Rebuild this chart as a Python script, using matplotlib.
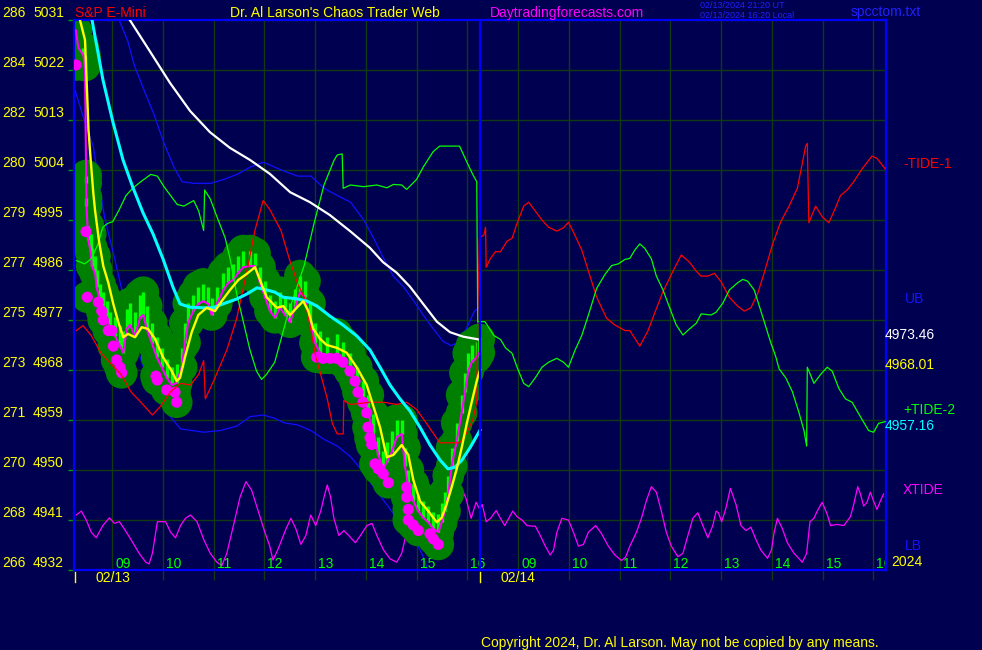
import numpy as np
import matplotlib.pyplot as plt
import matplotlib.transforms as mtransforms

plt.rcParams['font.family'] = ['Liberation Sans', 'DejaVu Sans']

W, H, DPI = 982, 650, 100
BG = '#000050'
GRID = '#123a12'
YEL = '#ffff00'

# left scale: second index and price gridlines
scale_a = [286, 284, 282, 280, 279, 277, 275, 273, 271, 270, 268, 266]
scale_p = [5031, 5022, 5013, 5004, 4995, 4986, 4977, 4968, 4959, 4950, 4941, 4932]
# session hours: day 2 (02/14) runs on from day 1, 09:00 of day 2 sits at 17
hour_labels = ['09', '10', '11', '12', '13', '14', '15', '16']
day1_hours = [9, 10, 11, 12, 13, 14, 15, 16]
day2_hours = [17, 18, 19, 20, 21, 22, 23, 24]
day_names = ['02/13', '02/14']

# price: close (magenta line), bar highs (lime)
close_t = [8.289, 8.335, 8.433, 8.467, 8.490, 8.496, 8.532, 8.579, 8.599, 8.664,
           8.697, 8.762, 8.821, 8.894, 8.959, 9.058, 9.156, 9.221, 9.288, 9.353,
           9.452, 9.550, 9.616, 9.683, 9.781, 9.880, 9.978, 10.077, 10.176, 10.274,
           10.372, 10.437, 10.502, 10.601, 10.699, 10.798, 10.896, 10.963, 11.062, 11.192,
           11.290, 11.389, 11.487, 11.586, 11.718, 11.817, 11.915, 12.013, 12.112, 12.211,
           12.309, 12.408, 12.506, 12.605, 12.703, 12.802, 12.900, 12.999, 13.097, 13.229,
           13.426, 13.556, 13.688, 13.820, 13.950, 14.049, 14.148, 14.246, 14.345, 14.412,
           14.510, 14.609, 14.707, 14.772, 14.837, 14.936, 15.034, 15.133, 15.231, 15.330,
           15.428, 15.495, 15.560, 15.625, 15.692, 15.791, 15.889, 15.954, 16.019, 16.086,
           16.185, 16.236]
close_p = [5029.1, 5026.0, 5024.7, 5022.8, 5001.7, 4997.5, 4991.4, 4989.2, 4986.7, 4985.5,
           4982.9, 4980.4, 4979.2, 4977.4, 4975.4, 4974.1, 4972.3, 4971.1, 4975.4, 4976.1,
           4974.1, 4977.4, 4977.9, 4975.4, 4972.9, 4970.3, 4968.5, 4966.6, 4965.3, 4965.7,
           4968.5, 4972.9, 4976.6, 4978.6, 4979.9, 4980.4, 4979.9, 4977.9, 4979.9, 4982.4,
           4983.7, 4984.2, 4985.5, 4986.5, 4986.7, 4986.7, 4983.7, 4981.1, 4978.6, 4977.4,
           4979.2, 4977.9, 4976.6, 4979.2, 4982.0, 4981.1, 4976.6, 4972.9, 4971.1, 4970.3,
           4970.3, 4969.4, 4967.8, 4965.3, 4962.8, 4960.3, 4956.5, 4952.7, 4950.2, 4951.4,
           4953.2, 4955.9, 4956.5, 4950.7, 4946.9, 4944.4, 4942.6, 4941.4, 4940.6, 4939.4,
           4938.8, 4940.6, 4942.6, 4945.7, 4950.7, 4955.2, 4960.3, 4964.0, 4967.8, 4969.4,
           4970.3, 4971.1]
close_hi = [5029.1, 5026.0, 5026.0, 5024.5, 5003.0, 4999.0, 4994.0, 4992.5, 4990.0, 4988.5,
            4986.0, 4983.5, 4982.0, 4980.5, 4978.5, 4977.5, 4976.0, 4975.0, 4979.0, 4980.0,
            4978.5, 4981.5, 4982.0, 4979.5, 4976.5, 4974.0, 4972.0, 4970.0, 4968.5, 4969.0,
            4972.0, 4976.5, 4980.0, 4981.5, 4983.0, 4983.5, 4983.0, 4981.0, 4983.0, 4985.5,
            4986.5, 4987.0, 4988.5, 4989.5, 4989.5, 4989.0, 4986.5, 4984.0, 4981.5, 4980.5,
            4982.0, 4981.0, 4980.0, 4982.5, 4985.0, 4984.0, 4980.0, 4976.5, 4975.0, 4974.0,
            4974.5, 4973.0, 4971.0, 4968.5, 4966.0, 4963.5, 4960.0, 4956.0, 4953.5, 4955.0,
            4957.0, 4959.0, 4959.0, 4954.0, 4950.0, 4947.5, 4945.5, 4944.5, 4943.5, 4942.5,
            4942.0, 4944.0, 4946.0, 4949.0, 4954.0, 4958.5, 4963.5, 4967.5, 4971.0, 4972.5,
            4973.0, 4973.5]

# magenta turning-point dots
dot_t = [8.289, 8.486, 8.512, 8.729, 8.796, 8.827, 8.926, 8.993, 9.024, 9.091,
         9.156, 9.190, 9.866, 9.891, 10.077, 10.240, 10.274, 13.032, 13.156, 13.294,
         13.426, 13.550, 13.688, 13.787, 13.846, 13.944, 14.017, 14.043, 14.083, 14.116,
         14.181, 14.246, 14.345, 14.443, 14.806, 14.806, 14.837, 14.837, 14.936, 15.034,
         15.265, 15.330, 15.428]
dot_p = [5022.9, 4992.9, 4981.1, 4980.2, 4978.6, 4977.0, 4975.1, 4975.1, 4972.3, 4969.8,
         4968.5, 4967.5, 4966.9, 4966.2, 4964.4, 4964.0, 4962.2, 4970.3, 4970.1, 4970.1,
         4970.1, 4969.4, 4967.8, 4966.0, 4964.0, 4962.2, 4960.3, 4957.7, 4955.8, 4954.6,
         4951.1, 4950.2, 4949.3, 4947.7, 4946.9, 4945.1, 4942.9, 4941.0, 4940.1, 4939.1,
         4938.5, 4937.6, 4936.6]

# averages
yellow_t = [8.368, 8.467, 8.506, 8.536, 8.579, 8.630, 8.664, 8.743, 8.827, 8.926,
            9.024, 9.123, 9.221, 9.314, 9.452, 9.584, 9.708, 9.846, 10.004, 10.176,
            10.274, 10.339, 10.437, 10.569, 10.699, 10.865, 11.028, 11.160, 11.324, 11.487,
            11.653, 11.817, 11.915, 12.047, 12.244, 12.374, 12.506, 12.638, 12.768, 12.867,
            12.965, 13.097, 13.229, 13.426, 13.623, 13.820, 14.017, 14.148, 14.280, 14.412,
            14.542, 14.707, 14.837, 14.936, 15.068, 15.231, 15.397, 15.495, 15.594, 15.692,
            15.791, 15.889, 15.988, 16.086, 16.185, 16.25]
yellow_p = [5031, 5027.4, 5018.4, 5011.2, 5005.8, 4999.9, 4996.8, 4991.2, 4986.7, 4983.7,
            4979.9, 4976.6, 4973.9, 4974.5, 4973.9, 4975.7, 4975.4, 4973.6, 4970.3, 4967.8,
            4966.0, 4966.6, 4970.3, 4974.8, 4977.9, 4979.2, 4978.6, 4980.4, 4982.4, 4984.2,
            4985.3, 4986.5, 4984.2, 4981.1, 4979.2, 4979.5, 4977.9, 4979.2, 4980.4, 4978.6,
            4975.4, 4973.6, 4972.5, 4972.0, 4971.1, 4968.5, 4965.3, 4961.5, 4957.7, 4952.3,
            4952.7, 4954.5, 4952.7, 4948.2, 4944.4, 4942.6, 4940.6, 4941.4, 4943.9, 4946.9,
            4950.2, 4954.0, 4958.3, 4962.2, 4966.0, 4968.01]

cyan_t = [8.605, 8.821, 9.018, 9.216, 9.413, 9.610, 9.807, 10.004, 10.201, 10.339,
          10.536, 10.792, 10.989, 11.186, 11.462, 11.659, 11.856, 12.053, 12.211, 12.368,
          12.644, 12.841, 13.038, 13.294, 13.550, 13.826, 14.083, 14.280, 14.477, 14.674,
          14.871, 15.068, 15.265, 15.462, 15.619, 15.757, 15.895, 16.053, 16.25]
cyan_p = [5031, 5020.2, 5012.6, 5005.8, 5000.8, 4996.3, 4992.5, 4988.0, 4982.9, 4979.9,
          4979.3, 4979.2, 4979.2, 4979.9, 4980.8, 4981.7, 4982.8, 4982.4, 4982.0, 4981.1,
          4980.8, 4980.4, 4979.5, 4977.7, 4976.1, 4974.1, 4971.6, 4968.5, 4965.3, 4962.8,
          4960.6, 4957.7, 4954.5, 4951.8, 4950.2, 4950.5, 4951.8, 4954.0, 4957.16]

white_t = [9.35, 9.75, 10.14, 10.54, 10.93, 11.32, 11.72, 12.11, 12.51, 12.90,
           13.29, 13.69, 14.08, 14.34, 14.61, 14.87, 15.13, 15.40, 15.66, 15.92, 16.25]
white_p = [5031, 5025.3, 5019.7, 5014.6, 5010.8, 5008.0, 5005.8, 5003.3, 5000.0, 4998.2,
           4995.9, 4993.0, 4990.0, 4987.4, 4985.5, 4983.0, 4979.9, 4976.7, 4974.8, 4974.0,
           4973.46]

# bands
ub_t = [9.14, 9.31, 9.44, 9.63, 9.83, 10.02, 10.22, 10.38, 10.61, 10.94,
        11.20, 11.46, 11.72, 11.98, 12.21, 12.39, 12.66, 12.92, 13.18, 13.44,
        13.70, 13.96, 14.15, 14.35, 14.54, 14.74, 14.94, 15.13, 15.33, 15.52,
        15.68, 15.81, 15.98, 16.14, 16.23]
ub_p = [5031, 5027.2, 5022.8, 5018.4, 5013.9, 5008.9, 5004.5, 5001.9, 5001.6, 5001.6,
        5002.3, 5003.2, 5004.5, 5005.4, 5004.5, 5003.8, 5002.9, 5002.9, 5000.7, 4999.4,
        4998.2, 4995.0, 4991.8, 4988.1, 4984.9, 4983.0, 4980.5, 4977.9, 4975.4, 4973.2,
        4972.4, 4972.9, 4975.4, 4978.6, 4979.2]
lb_t = [8.27, 8.45, 8.63, 8.85, 9.05, 9.24, 9.37, 9.60, 9.85, 10.15,
        10.35, 10.81, 11.13, 11.46, 11.72, 11.98, 12.21, 12.39, 12.66, 12.92,
        13.18, 13.44, 13.70, 13.96, 14.15, 14.41, 14.61, 14.81, 15.00, 15.13,
        15.20, 15.26]
lb_p = [5018.4, 5013.0, 5008.2, 4995.6, 4988.1, 4980.5, 4975.4, 4969.0, 4963.5, 4959.6,
        4957.4, 4956.8, 4957.1, 4957.9, 4959.6, 4959.9, 4959.3, 4958.5, 4958.1, 4957.1,
        4955.5, 4954.3, 4952.4, 4949.5, 4947.0, 4943.8, 4941.3, 4939.4, 4936.9, 4934.4,
        4932.5, 4930.5]

# tides (both days)
red_t = [8.296, 8.427, 8.590, 8.785, 8.980, 9.176, 9.371, 9.567, 9.795, 9.958,
         10.153, 10.349, 10.544, 10.707, 10.805, 10.837, 11.000, 11.261, 11.456, 11.651,
         11.814, 11.977, 12.107, 12.329, 12.492, 12.655, 12.785, 12.915, 13.013, 13.111,
         13.241, 13.339, 13.436, 13.554, 13.567, 13.697, 14.088, 14.349, 14.609, 14.805,
         15.000, 15.195, 15.391, 15.456, 15.847, 15.977, 16.107, 16.186, 16.205, 16.238,
         16.327, 16.359, 16.372, 16.457, 16.555, 16.653, 16.784, 16.882, 16.980, 17.111,
         17.209, 17.340, 17.471, 17.601, 17.765, 17.895, 17.993, 18.124, 18.255, 18.386,
         18.549, 18.745, 18.908, 19.105, 19.203, 19.399, 19.562, 19.693, 19.856, 20.052,
         20.216, 20.379, 20.510, 20.608, 20.739, 20.869, 21.000, 21.163, 21.327, 21.457,
         21.588, 21.719, 21.850, 22.013, 22.176, 22.340, 22.503, 22.667, 22.699, 22.730,
         22.863, 22.993, 23.124, 23.255, 23.353, 23.484, 23.614, 23.778, 23.974, 24.072,
         24.235]
red_p = [4975.1, 4976.0, 4974.2, 4971.0, 4969.1, 4967.2, 4964.1, 4962.2, 4959.9, 4961.5,
         4964.1, 4965.6, 4965.3, 4967.2, 4969.7, 4962.8, 4966.0, 4971.6, 4977.3, 4985.5,
         4993.1, 4998.5, 4996.9, 4993.1, 4988.0, 4983.6, 4981.1, 4975.4, 4970.4, 4967.2,
         4962.8, 4958.4, 4956.5, 4956.5, 4962.5, 4961.8, 4962.2, 4962.2, 4961.8, 4962.2,
         4960.9, 4958.4, 4955.8, 4954.9, 4954.9, 4956.5, 4959.0, 4962.2, 4977.3, 4991.8,
         4992.3, 4993.7, 4986.5, 4988.1, 4989.3, 4989.3, 4991.2, 4991.7, 4994.4, 4997.5,
         4998.2, 4996.6, 4995.0, 4993.7, 4993.0, 4993.6, 4994.6, 4992.2, 4989.6, 4985.8,
         4981.1, 4977.3, 4976.1, 4975.1, 4975.1, 4972.3, 4975.1, 4978.3, 4982.1, 4985.8,
         4988.7, 4987.4, 4985.8, 4984.9, 4984.9, 4985.4, 4983.9, 4981.1, 4979.5, 4978.6,
         4979.2, 4981.7, 4985.5, 4990.6, 4994.7, 4997.5, 5000.7, 5008.3, 5008.8, 4994.5,
         4997.5, 4995.6, 4994.5, 4997.2, 4999.4, 5000.4, 5001.9, 5004.2, 5006.5, 5006.1,
         5004.2]

green_t = [8.296, 8.459, 8.590, 8.720, 8.818, 8.915, 9.013, 9.143, 9.274, 9.404,
           9.567, 9.762, 9.893, 10.023, 10.153, 10.283, 10.414, 10.609, 10.707, 10.805,
           10.824, 10.935, 11.065, 11.228, 11.326, 11.456, 11.586, 11.717, 11.847, 11.945,
           12.042, 12.205, 12.459, 12.785, 12.980, 13.176, 13.371, 13.436, 13.534, 13.554,
           13.697, 13.958, 14.218, 14.414, 14.544, 14.707, 14.805, 15.000, 15.130, 15.326,
           15.456, 15.847, 15.977, 16.107, 16.186, 16.205,
           16.346, 16.392, 16.523, 16.653, 16.752, 16.882, 16.980, 17.111, 17.209, 17.340,
           17.471, 17.601, 17.765, 17.895, 17.993, 18.124, 18.255, 18.386, 18.549, 18.712,
           18.843, 18.974, 19.105, 19.203, 19.301, 19.399, 19.497, 19.627, 19.725, 19.856,
           19.987, 20.117, 20.248, 20.379, 20.510, 20.608, 20.804, 20.902, 21.033, 21.163,
           21.327, 21.425, 21.523, 21.653, 21.719, 21.850, 21.980, 22.078, 22.144, 22.274,
           22.405, 22.536, 22.634, 22.686, 22.699, 22.830, 22.961, 23.092, 23.189, 23.320,
           23.451, 23.582, 23.745, 23.908, 24.006, 24.104, 24.235]
green_p = [4987.7, 4987.1, 4988.0, 4990.6, 4993.7, 4994.4, 4994.7, 4996.9, 4999.4, 5000.7,
           5001.9, 5003.2, 5002.9, 5001.0, 4999.4, 4997.8, 4997.5, 4998.5, 4996.6, 4993.1,
           5000.4, 4998.8, 4995.6, 4991.8, 4988.0, 4981.7, 4976.7, 4971.6, 4967.8, 4966.3,
           4967.2, 4969.4, 4977.9, 4986.8, 4994.4, 5001.3, 5005.7, 5006.7, 5006.9, 5000.7,
           5001.3, 5001.0, 5001.3, 5000.8, 5001.4, 5001.3, 5000.5, 5002.3, 5004.5, 5007.3,
           5008.3, 5008.3, 5005.7, 5003.2, 5001.9, 4976.7,
           4976.7, 4976.1, 4974.2, 4973.5, 4972.0, 4971.0, 4968.5, 4965.6, 4965.0, 4966.6,
           4968.5, 4969.4, 4970.1, 4969.4, 4968.5, 4971.6, 4974.2, 4977.9, 4982.7, 4985.2,
           4986.8, 4987.1, 4987.9, 4988.1, 4989.6, 4990.7, 4989.9, 4988.0, 4984.9, 4982.4,
           4979.2, 4976.1, 4974.3, 4975.4, 4976.4, 4978.1, 4977.9, 4978.4, 4980.0, 4982.4,
           4983.7, 4984.3, 4984.0, 4982.4, 4980.5, 4976.7, 4972.9, 4970.4, 4968.2, 4966.6,
           4964.1, 4960.3, 4957.1, 4954.3, 4968.5, 4965.6, 4967.2, 4968.5, 4967.8, 4964.7,
           4962.8, 4962.2, 4959.6, 4957.1, 4956.8, 4958.4, 4958.7]

xtide_t = [8.296, 8.394, 8.492, 8.590, 8.687, 8.818, 8.948, 9.046, 9.143, 9.241,
           9.371, 9.534, 9.665, 9.730, 9.795, 9.893, 10.055, 10.153, 10.251, 10.349,
           10.446, 10.544, 10.674, 10.805, 10.935, 11.065, 11.163, 11.261, 11.391, 11.521,
           11.638, 11.749, 11.879, 12.010, 12.107, 12.170, 12.264, 12.427, 12.524, 12.622,
           12.720, 12.818, 12.915, 13.013, 13.111, 13.176, 13.241, 13.306, 13.371, 13.469,
           13.567, 13.664, 13.795, 13.893, 14.023, 14.121, 14.218, 14.349, 14.479, 14.609,
           14.707, 14.805, 14.902, 14.967, 15.050, 15.200, 15.400, 15.600, 15.782, 15.879,
           15.977, 16.075, 16.173, 16.240,
           16.294, 16.372, 16.457, 16.569, 16.653, 16.738, 16.817, 16.895, 16.980, 17.078,
           17.176, 17.275, 17.340, 17.438, 17.536, 17.634, 17.699, 17.765, 17.863, 17.993,
           18.091, 18.190, 18.288, 18.386, 18.529, 18.647, 18.778, 18.908, 19.039, 19.118,
           19.203, 19.333, 19.431, 19.529, 19.627, 19.725, 19.823, 19.921, 20.019, 20.150,
           20.248, 20.346, 20.444, 20.542, 20.641, 20.739, 20.837, 20.902, 20.948, 21.013,
           21.098, 21.183, 21.294, 21.392, 21.490, 21.588, 21.686, 21.784, 21.915, 21.993,
           22.046, 22.111, 22.209, 22.307, 22.438, 22.601, 22.686, 22.752, 22.830, 22.895,
           22.993, 23.092, 23.157, 23.288, 23.418, 23.549, 23.614, 23.693, 23.745, 23.810,
           23.876, 23.941, 24.006, 24.072, 24.137, 24.203]
xtide_p = [4941.9, 4942.6, 4941.0, 4938.8, 4937.8, 4940.0, 4941.4, 4940.4, 4940.7, 4939.4,
           4937.5, 4935.0, 4933.4, 4933.1, 4935.0, 4940.7, 4940.7, 4938.8, 4937.8, 4940.0,
           4941.3, 4941.9, 4940.7, 4937.5, 4935.0, 4933.4, 4932.8, 4935.0, 4940.0, 4945.1,
           4947.9, 4946.4, 4942.6, 4938.8, 4936.3, 4933.8, 4935.6, 4939.4, 4941.3, 4939.4,
           4936.6, 4938.2, 4941.9, 4940.0, 4942.6, 4945.1, 4947.3, 4945.1, 4941.3, 4938.2,
           4939.1, 4938.2, 4936.9, 4938.2, 4940.0, 4940.4, 4938.2, 4935.6, 4934.0, 4933.4,
           4935.0, 4938.8, 4942.6, 4943.8, 4942.5, 4938.0, 4937.5, 4942.5, 4947.6, 4946.9,
           4944.8, 4941.3, 4944.2, 4943.0,
           4943.8, 4940.7, 4941.3, 4942.7, 4941.3, 4940.0, 4941.3, 4942.6, 4941.6, 4941.0,
           4940.0, 4939.9, 4939.9, 4938.2, 4936.3, 4934.7, 4935.6, 4938.8, 4941.3, 4941.0,
           4938.8, 4936.3, 4936.6, 4938.8, 4940.0, 4938.5, 4936.3, 4934.7, 4933.7, 4934.3,
           4936.3, 4938.8, 4941.3, 4944.5, 4947.0, 4946.0, 4942.6, 4938.8, 4936.3, 4934.4,
           4935.0, 4938.2, 4941.3, 4942.3, 4940.0, 4937.8, 4940.0, 4942.6, 4942.3, 4940.7,
           4943.2, 4946.7, 4943.8, 4940.0, 4939.1, 4939.7, 4937.5, 4935.6, 4934.1, 4935.6,
           4938.8, 4941.3, 4939.4, 4936.9, 4935.0, 4933.4, 4935.0, 4940.7, 4941.3, 4942.6,
           4944.2, 4942.0, 4940.0, 4940.2, 4940.0, 4941.6, 4943.8, 4947.0, 4945.7, 4943.5,
           4944.2, 4946.0, 4944.4, 4942.9, 4944.4, 4945.7]

fig = plt.figure(figsize=(W / DPI, H / DPI), dpi=DPI, facecolor=BG)
ax = fig.add_axes([74 / W, 80 / H, 812 / W, 550 / H])
ax.set_facecolor(BG)
ax.set_xlim(8.25, 24.25)
ax.set_ylim(4932, 5031)

ax.set_yticks(scale_p)
ax.set_xticks(day1_hours + day2_hours)
ax.grid(True, color=GRID, lw=1)
ax.set_axisbelow(True)
ax.tick_params(axis='y', length=4, width=1, color='#00a000', labelleft=False)
ax.tick_params(axis='x', length=7.5, width=1, color=GRID, labelbottom=False)
for s in ax.spines.values():
    s.set_color('#0000ff')
    s.set_linewidth(1.6)
ax.axvline(16.25, color='#0000ff', lw=1.6, zorder=9)

# lines under the price blobs
ax.plot(xtide_t, xtide_p, color='#ff00ff', lw=0.9, zorder=1)
ax.plot(ub_t, ub_p, color='#1010ff', lw=0.9, zorder=1)
ax.plot(lb_t, lb_p, color='#1010ff', lw=0.9, zorder=1)

# price blobs, bars and dots
ax.scatter(close_t + close_t + dot_t, close_p + close_hi + dot_p, s=520,
           color='#008000', edgecolors='none', zorder=2)
ax.vlines(close_t, close_p, close_hi, color='#00ff00', lw=2.4, zorder=3)
ax.plot(close_t, close_p, color='#ff00ff', lw=1.5, zorder=4)
ax.scatter(dot_t, dot_p, s=65, color='#ff00ff', edgecolors='none', zorder=4)

# tides and averages
ax.plot(red_t, red_p, color='#ff0000', lw=0.9, zorder=5)
ax.plot(green_t, green_p, color='#00ff00', lw=0.9, zorder=5)
ax.plot(white_t, white_p, color='#ffffff', lw=1.6, zorder=6)
ax.plot(cyan_t, cyan_p, color='#00ffff', lw=2.2, zorder=7)
ax.plot(yellow_t, yellow_p, color=YEL, lw=1.7, zorder=8)

# hour labels
tb = mtransforms.blended_transform_factory(ax.transData, ax.transAxes)
for hrs in (day1_hours, day2_hours):
    for h, lab in zip(hrs, hour_labels):
        ax.text(h + 0.06, 2 / 550, lab, transform=tb, color='#00ff00', fontsize=10,
                ha='left', va='baseline', clip_on=True, zorder=1.5)

# day ticks under the axis
for t in (8.27, 16.25):
    ax.plot([t, t], [-2 / 550, -12 / 550], transform=tb, clip_on=False, color=YEL, lw=1)

# left two-column scale
tl = mtransforms.blended_transform_factory(fig.transFigure, ax.transData) + \
    mtransforms.ScaledTranslation(0, 6.5 / DPI, fig.dpi_scale_trans)
for a, p in zip(scale_a, scale_p):
    ax.text(2 / W, p, str(a), transform=tl, color=YEL, fontsize=10, va='center', clip_on=False)
    ax.text(33 / W, p, str(p), transform=tl, color=YEL, fontsize=10, va='center', clip_on=False)

# end values on the right
tr = mtransforms.blended_transform_factory(fig.transFigure, ax.transData) + \
    mtransforms.ScaledTranslation(0, 4.5 / DPI, fig.dpi_scale_trans)
for val, col in ((white_p[-1], '#ffffff'), (yellow_p[-1], YEL), (cyan_p[-1], '#00ffff')):
    ax.text(885 / W, val, f'{val:.2f}', transform=tr, color=col, fontsize=10,
            va='center', clip_on=False)


def ptext(x, y, s, color, size=10, ha='left'):
    fig.text(x / W, 1 - y / H, s, color=color, fontsize=size, ha=ha, va='center')


ptext(75, 13, 'S&P E-Mini', '#ff0000')
ptext(230, 13, "Dr. Al Larson's Chaos Trader Web", YEL)
ptext(490, 13, 'Daytradingforecasts.com', '#ff00ff')
ptext(700, 6, '02/13/2024 21:20 UT', '#2020ff', size=6.5)
ptext(700, 15, '02/13/2024 16:20 Local', '#2020ff', size=6.5)
ptext(851, 12, 'spcctom.txt', '#2020ff')

ptext(903, 164, '-TIDE-1', '#ff0000')
ptext(905, 299, 'UB', '#1414ff')
ptext(903, 410, '+TIDE-2', '#00ff00')
ptext(903, 490, 'XTIDE', '#ff00ff')
ptext(905, 546, 'LB', '#1414ff')
ptext(891, 562, '2024', YEL)

ptext(113, 578, day_names[0], YEL, ha='center')
ptext(518, 578, day_names[1], YEL, ha='center')
ptext(481, 643, 'Copyright 2024, Dr. Al Larson. May not be copied by any means.', YEL)

fig.savefig('out.png', dpi=DPI, facecolor=BG)
